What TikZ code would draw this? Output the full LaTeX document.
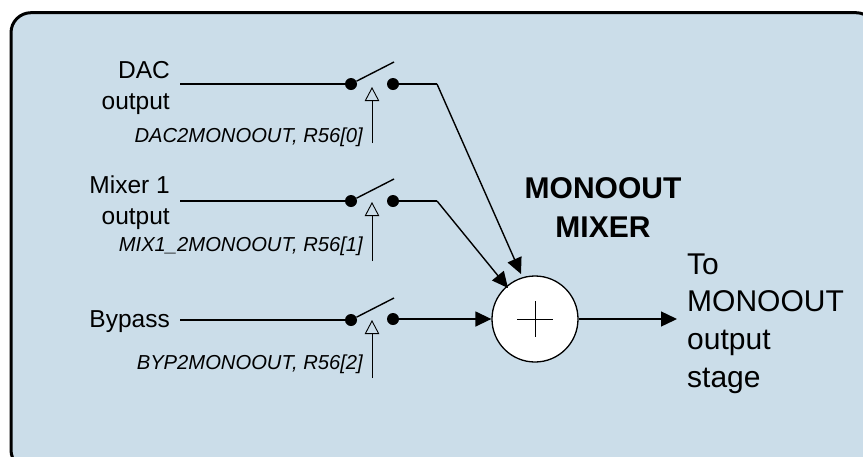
\documentclass[tikz,border=0pt]{standalone}
\usepackage{fontspec}
\setmainfont{Liberation Sans}
\usepackage{xcolor}
\usetikzlibrary{arrows,arrows.meta}
\definecolor{panelblue}{RGB}{203,221,233}
\tikzset{
	lbl/.style={inner sep=0pt,font=\fontsize{24.5}{31}\selectfont,align=right,anchor=east},
	ctl/.style={inner sep=0pt,font=\fontsize{20.2}{24}\selectfont\itshape,anchor=base east},
	dot/.style={circle,inner sep=0pt,minimum size=12pt,fill=black},
	wire/.style={line width=1.4pt},
	sig/.style={line width=1.4pt,-{Triangle[length=16pt,width=15pt]}},
	ctrl/.style={line width=0.9pt,-{Triangle[open,length=14pt,width=14.5pt,fill=panelblue]}}
}
\begin{document}
\begin{tikzpicture}[x=1pt,y=-1pt]

\useasboundingbox (0,0) rectangle (863,456);
\fill[white] (0,0) rectangle (863,456);
\draw[line width=3pt,fill=panelblue,rounded corners=20pt] (11,12.7) rectangle (876,470);

% mixer
\node (mix) at (535,319) [circle,draw=black,line width=1.3pt,fill=white,inner sep=0pt,minimum size=86pt] {};
\coordinate (mixw) at (517,319);
\coordinate (mixe) at (553,319);
\coordinate (mixn) at (535,301);
\coordinate (mixs) at (535,337);
\draw[line width=1pt] (mixw) -- (mixe);
\draw[line width=1pt] (mixn) -- (mixs);

\node (mixlabel) at (603,207.5) [inner sep=0pt,align=center,font=\fontsize{30}{38.5}\selectfont\bfseries] {MONOOUT\\MIXER};
\coordinate (toend) at (677,319);
\draw[sig] (mix) -- (toend);
\node (tolabel) at (687,323.5) [inner sep=0pt,anchor=west,align=left,font=\fontsize{30}{37.7}\selectfont] {To\\MONOOUT\\output\\stage};

% switches: name/left y/right y/arrow tip/control end
\foreach \nm/\y/\ry/\ty/\cy in {a/84/84/87/143,b/201/201/202/261,c/320/319/320/378}
{
	\node (\nm l) at (351,\y) [dot] {};
	\node (\nm r) at (393,\ry) [dot] {};
	\coordinate (\nm t) at (394,\y-22);
	\coordinate (\nm c) at (372,\ty);
	\coordinate (\nm f) at (372,\cy);
	\coordinate (\nm w) at (180,\y);
	\coordinate (\nm b) at (437,\ry);
	\draw[wire] (\nm w) -- (\nm l);
	\draw[wire] (\nm l) -- (\nm t);
	\draw[ctrl] (\nm f) -- (\nm c);
}

% inputs
\node (dac) at (170,87.5) [lbl] {DAC\\output};
\node (mx1) at (170,202.5) [lbl] {Mixer 1\\output};
\node (byp) at (170,327) [lbl,anchor=base east] {Bypass};

% outputs
\coordinate (atip) at (521,274);
\coordinate (btip) at (508,288);
\draw[wire] (ar) -- (ab);
\draw[sig] (ab) -- (atip);
\draw[wire] (br) -- (bb);
\draw[sig] (bb) -- (btip);
\draw[sig] (cr) -- (mix);

% control labels
\node (actl) at (363,142) [ctl] {DAC2MONOOUT, R56[0]};
\node (bctl) at (363,251) [ctl] {MIX1\_2MONOOUT, R56[1]};
\node (cctl) at (363,369) [ctl] {BYP2MONOOUT, R56[2]};

\end{tikzpicture}
\end{document}
